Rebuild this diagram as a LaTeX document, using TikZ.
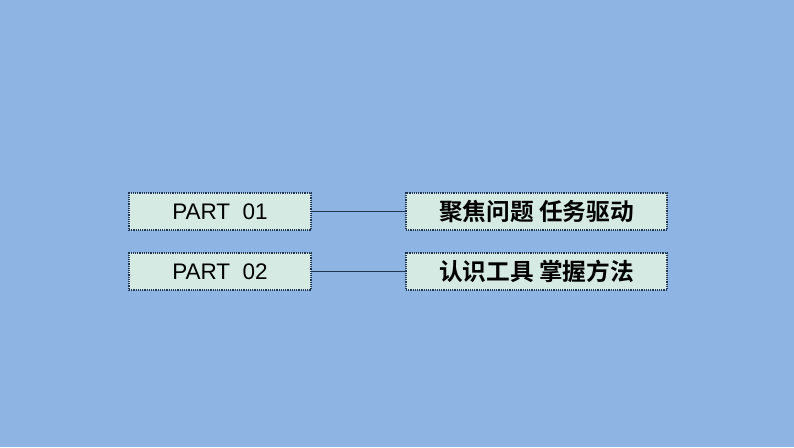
\documentclass[tikz,border=0pt]{standalone}
\usepackage{fontspec}
\setmainfont{Liberation Sans}
\newfontfamily\cjk{Noto Sans CJK SC}[BoldFont={* Bold}]
\definecolor{bg}{HTML}{8EB4E3}
\definecolor{boxfill}{HTML}{D6EAE4}
\definecolor{edge}{HTML}{1F3550}
\tikzset{pbox/.style={draw=edge,densely dotted,line width=1.2pt,fill=boxfill,inner sep=0pt},
conn/.style={draw=edge,line width=0.6pt}}
\begin{document}
\begin{tikzpicture}[x=1pt,y=-1pt]
\fill[bg] (0,0) rectangle (794,447);
\useasboundingbox (0,0) rectangle (794,447);
\node[pbox,minimum width=182pt,minimum height=37pt] (p1) at (220,211.5) {\fontsize{22.5}{26}\selectfont PART\ \ 01};
\node[pbox,minimum width=182pt,minimum height=37pt] (p2) at (220,271.5) {\fontsize{22.5}{26}\selectfont PART\ \ 02};
\node[pbox,minimum width=261pt,minimum height=37pt] (t1) at (536.5,211.5) {\cjk\bfseries\fontsize{23.7}{26}\selectfont 聚焦问题 任务驱动};
\node[pbox,minimum width=261pt,minimum height=37pt] (t2) at (536.5,271.5) {\cjk\bfseries\fontsize{23.7}{26}\selectfont 认识工具 掌握方法};
\draw[conn] (p1.east) -- (t1.west);
\draw[conn] (p2.east) -- (t2.west);
\end{tikzpicture}
\end{document}
